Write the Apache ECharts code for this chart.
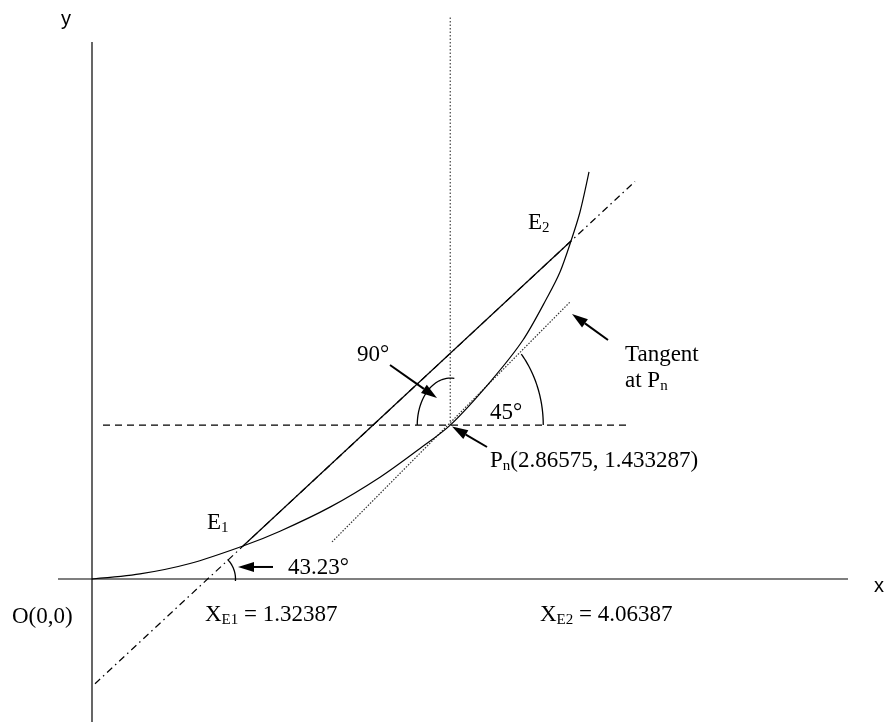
<!DOCTYPE html>
<html>
<head>
<meta charset="utf-8">
<style>
  html, body { margin: 0; padding: 0; background: #fff; }
  #main { width: 887px; height: 722px; }
</style>
<script src="https://cdn.jsdelivr.net/npm/echarts@6/dist/echarts.min.js"></script>
</head>
<body>
<div id="main"></div>
<script>
// values printed on the figure
const pointPn = [2.86575, 1.433287];
const xE1 = 1.32387;
const xE2 = 4.06387;
const angleLabels = [90, 45, 43.23];

// drawing units (x right, y up, O at 0,0)
const curveX = [0, 0.384, 0.784, 1.208, 1.504, 1.904, 2.304, 2.624, 2.866, 3.184, 3.448, 3.648, 3.744, 3.832, 3.904, 3.976];
const curveY = [0, 0.047, 0.144, 0.307, 0.445, 0.669, 0.948, 1.216, 1.433, 1.834, 2.225, 2.635, 2.858, 3.147, 3.417, 3.790];
const pointE1 = [1.208, 0.307];
const pointE2 = [3.832, 3.147];
const secantEnds = [[0.024, -0.975], [4.344, 3.701]];
const horizontalEnds = [[0.088, 1.433], [4.304, 1.433]];
const verticalEnds = [[2.866, 1.433], [2.866, 5.233]];
const tangentEnds = [[1.92, 0.345], [3.824, 2.579]];
const xAxisEnds = [[-0.272, 0], [6.048, 0]];
const yAxisEnds = [[0, -1.332], [0, 5.0]];
// arcs: centre x, centre y, from angle, to angle (degrees)
const arcs = [[2.866, 1.433, 85, 180], [2.866, 1.433, 0, 45], [0.924, 0, -4, 44]];
// arrows: tail x, tail y, head x, head y
const arrows = [
  [2.384, 1.993, 2.76, 1.685],
  [3.16, 1.229, 2.88, 1.42],
  [4.128, 2.225, 3.84, 2.467],
  [1.448, 0.112, 1.168, 0.112]
];

const serif = '"Liberation Serif", "Times New Roman", serif';
const sans = '"Liberation Sans", Arial, sans-serif';
const arcRadius = [[33, 47], [93, 110], [28, 28]];

function seg(name, ends, type, color) {
  return {
    name: name,
    type: 'line',
    data: ends,
    showSymbol: false,
    silent: true,
    lineStyle: { color: color || '#000', width: 1.2, type: type || 'solid' },
    z: 2
  };
}

function renderArc(params, api) {
  const c = api.coord([api.value(0), api.value(1)]);
  const rx = arcRadius[params.dataIndex][0];
  const ry = arcRadius[params.dataIndex][1];
  const a0 = api.value(2);
  const a1 = api.value(3);
  const pts = [];
  for (let i = 0; i <= 40; i++) {
    const a = (a0 + (a1 - a0) * i / 40) * Math.PI / 180;
    const t = Math.atan2(Math.sin(a) / ry, Math.cos(a) / rx);
    pts.push([c[0] + rx * Math.cos(t), c[1] - ry * Math.sin(t)]);
  }
  return {
    type: 'polyline',
    shape: { points: pts },
    style: { stroke: '#000', lineWidth: 1.3, fill: null }
  };
}

function renderArrow(params, api) {
  const p0 = api.coord([api.value(0), api.value(1)]);
  const p1 = api.coord([api.value(2), api.value(3)]);
  const ang = Math.atan2(p1[1] - p0[1], p1[0] - p0[0]);
  const len = 16, half = 5;
  const bx = p1[0] - len * Math.cos(ang);
  const by = p1[1] - len * Math.sin(ang);
  const nx = -Math.sin(ang) * half;
  const ny = Math.cos(ang) * half;
  return {
    type: 'group',
    children: [
      { type: 'line', shape: { x1: p0[0], y1: p0[1], x2: bx, y2: by }, style: { stroke: '#000', lineWidth: 2 } },
      { type: 'polygon', shape: { points: [p1, [bx + nx, by + ny], [bx - nx, by - ny]] }, style: { fill: '#000' } }
    ]
  };
}

const rich = {
  s: { fontFamily: serif, fontSize: 15, lineHeight: 12, verticalAlign: 'bottom', fill: '#000' }
};

function label(x, baseline, text, font) {
  return {
    type: 'text',
    x: x,
    y: baseline - 20,
    silent: true,
    style: {
      text: text,
      rich: rich,
      fill: '#000',
      align: 'left',
      verticalAlign: 'top',
      fontFamily: font || serif,
      fontSize: font ? 20 : 23,
      lineHeight: 26
    }
  };
}

const chart = echarts.init(document.getElementById('main'));
chart.setOption({
  animation: false,
  grid: { left: 0, right: 0, top: 0, bottom: 0 },
  xAxis: { type: 'value', min: -0.736, max: 6.36, show: false },
  yAxis: { type: 'value', min: -1.3315, max: 5.391, show: false },
  series: [
    seg('x axis', xAxisEnds),
    seg('y axis', yAxisEnds),
    seg('secant line', secantEnds, [7, 4, 1.5, 4]),
    seg('chord', [pointE1, pointE2]),
    seg('horizontal', horizontalEnds, [7, 5]),
    seg('vertical', verticalEnds, [1.5, 2], '#444'),
    seg('tangent', tangentEnds, [1.5, 1.5], '#333'),
    {
      name: 'curve',
      type: 'line',
      data: curveX.map((x, i) => [x, curveY[i]]),
      smooth: 0.3,
      showSymbol: false,
      silent: true,
      lineStyle: { color: '#000', width: 1.2 },
      z: 3
    },
    {
      name: 'arcs',
      type: 'custom',
      data: arcs,
      encode: { x: 0, y: 1 },
      renderItem: renderArc,
      silent: true,
      z: 4
    },
    {
      name: 'arrows',
      type: 'custom',
      data: arrows,
      encode: { x: [0, 2], y: [1, 3] },
      renderItem: renderArrow,
      silent: true,
      z: 5
    }
  ],
  graphic: [
    label(61, 26, 'y', sans),
    label(874, 593, 'x', sans),
    label(12, 624, 'O(0,0)'),
    label(205, 622, 'X{s|E1} = ' + xE1),
    label(540, 622, 'X{s|E2} = ' + xE2),
    label(288, 575, angleLabels[2] + '°'),
    label(207, 530, 'E{s|1}'),
    label(528, 230, 'E{s|2}'),
    label(357, 362, angleLabels[0] + '°'),
    label(490, 420, angleLabels[1] + '°'),
    label(625, 362, 'Tangent'),
    label(625, 388, 'at P{s|n}'),
    label(490, 468, 'P{s|n}(' + pointPn[0] + ', ' + pointPn[1] + ')')
  ]
});
</script>
</body>
</html>
